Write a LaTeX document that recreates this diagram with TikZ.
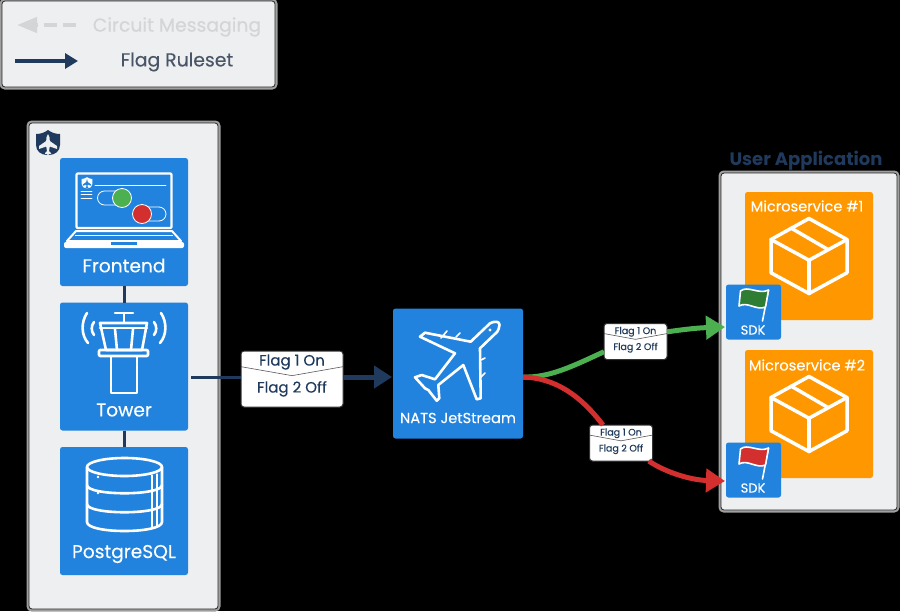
\documentclass[tikz,border=0pt]{standalone}
\usepackage{fontspec}
\setmainfont{Poppins}
\newfontfamily\mediumfont{Poppins}[FakeBold=0.25]
\usepackage{tikz}
\usetikzlibrary{arrows.meta}
\usetikzlibrary{positioning, calc}

\definecolor{panelgray}{HTML}{EEEFF0}
\definecolor{blockblue}{HTML}{2183DD}
\definecolor{blockorange}{HTML}{FF9800}
\definecolor{navy}{HTML}{1F3A5C}
\definecolor{flowgreen}{HTML}{4CAF50}
\definecolor{flowred}{HTML}{D32F2F}
\definecolor{flaggreen}{HTML}{2E7D32}
\definecolor{faded}{HTML}{D3D5D7}
\definecolor{rulesettext}{HTML}{4A5668}

\begin{document}
\begin{tikzpicture}[
    x=1pt, y=-1pt,
    panel/.style={fill=panelgray, draw=black!85, line width=.8pt, rounded corners=3pt, inner sep=0, outer sep=0, preaction={draw=gray!75, line width=5pt}},
    block/.style={fill=blockblue, rounded corners=2.5pt, inner sep=0, outer sep=0, minimum size=128pt},
    micro/.style={block, fill=blockorange},
    sdk/.style={block, minimum size=55pt},
    caption/.style={text=white, font=\fontsize{18.6}{20}\mediumfont},
    smallcaption/.style={text=white, font=\fontsize{14.6}{18}\mediumfont},
    icon/.style={draw=white, line width=2.6pt, line join=round, line cap=round},
    boxline/.style={draw=white, line width=3.5pt, line join=round, line cap=round},
    link/.style={navy, line width=3pt},
    flow/.style={line width=5pt, -{Triangle[length=19pt, width=23pt]}},
    flowplain/.style={line width=5pt},
    tag/.style={fill=white, draw=black!80, line width=1pt, rounded corners=3pt, inner sep=0, outer sep=0, align=center, text=navy,
        path picture={\draw[black!65, line width=.6pt, sharp corners]
            ($(path picture bounding box.north west)!#1!(path picture bounding box.south west)$) --
            ($(path picture bounding box.north)!#1+.16!(path picture bounding box.south)$) --
            ($(path picture bounding box.north east)!#1!(path picture bounding box.south east)$);}},
    bigtag/.style={tag=.28, minimum width=102pt, minimum height=56pt, text depth=11pt, font=\fontsize{15}{27}\mediumfont},
    smalltag/.style={tag=.28, minimum width=63pt, minimum height=36pt, text depth=6pt, font=\fontsize{9.5}{16}\mediumfont},
    pics/shield icon/.style={code={
        \fill[pic actions] (0,-13) .. controls (-4,-10) and (-8,-9) .. (-12,-9) -- (-12,2)
            .. controls (-12,8) and (-7,12) .. (-1,12) -- (0,9) -- (1,12)
            .. controls (7,12) and (12,8) .. (12,2) -- (12,-9) .. controls (8,-9) and (4,-10) .. (0,-13) -- cycle;
        \fill[#1] (0,-9) .. controls (1.8,-7) and (1.8,-4) .. (1.8,-2) -- (9,3) -- (9,6) -- (1.8,3.5) -- (1,8) -- (3,10)
            -- (3,11) -- (-3,11) -- (-3,10) -- (-1,8) -- (-1.8,3.5) -- (-9,6) -- (-9,3) -- (-1.8,-2) .. controls (-1.8,-4) and (-1.8,-7) .. (0,-9) -- cycle;
    }},
    pics/box icon/.style={code={
        \draw[boxline] (0,-37.5) -- (38,-16.5) -- (38,16.8) -- (0,37.5) -- (-38,16.8) -- (-38,-16.5) -- cycle;
        \draw[boxline] (-38,-16.5) -- (0,4.2) -- (38,-16.5);
        \draw[boxline] (0,4.2) -- (0,37.5);
        \draw[boxline] (-18,-28) -- (19,-6.5);
    }},
    pics/flag icon/.style={code={
        \draw[white, line width=1.6pt, line cap=round] (15,-22) -- (9,9);
        \draw[pic actions, draw=white, line width=1.6pt, line join=round] (-13,-21) .. controls (-6,-27) and (6,-17) .. (15,-22)
            -- (12,-5) .. controls (3,-1) and (-6,-11) .. (-14.5,-6) -- cycle;
    }}
]
    \useasboundingbox (0,0) rectangle (900,611);
    \fill[black] (0,0) rectangle (900,611);

    % panels
    \node[panel, minimum width=273pt, minimum height=86pt] (legend) at (138.5,44) {};
    \node[panel, minimum width=189pt, minimum height=486pt] (platform) at (123.5,366) {};
    \node[panel, minimum width=176pt, minimum height=337pt] (userapp) at (809,341.5) {};
    \node[text=navy, font=\fontsize{18}{20}\bfseries\selectfont] (userapptitle) at (806,161) {User Application};
    \pic[fill=navy] at (48,143) {shield icon={panelgray}};

    % legend
    \coordinate (circuitstart) at (76,25);
    \coordinate (circuitend) at (17,25);
    \coordinate (rulesetstart) at (15,61);
    \coordinate (rulesetend) at (78,61);
    \draw[faded, line width=4pt, dash pattern=on 13pt off 6pt, -{Triangle[length=20pt, width=15pt, sep=0pt]}] (circuitstart) -- (circuitend);
    \draw[navy, line width=3.5pt, -{Triangle[length=13pt, width=15pt]}] (rulesetstart) -- (rulesetend);
    \node[text=faded, font=\fontsize{18.8}{20}\mediumfont] (circuitlabel) at (177,27) {Circuit Messaging};
    \node[text=rulesettext, font=\fontsize{18.8}{20}\mediumfont] (rulesetlabel) at (177,62) {Flag Ruleset};

    % blocks
    \node[block] (frontend) at (124,222) {};
    \node[block] (tower) at (124,366.5) {};
    \node[block] (postgres) at (124,511) {};
    \node[block, minimum size=130pt] (nats) at (458,373.5) {};
    \node[micro] (microA) at (809,256) {};
    \node[micro] (microB) at (809,414) {};

    \draw[link] (frontend) -- (tower);
    \draw[link] (tower) -- (postgres);

    \node[caption] (frontendtext) at (124,265.5) {Frontend};
    \node[caption] (towertext) at (124,410) {Tower};
    \node[caption] (postgrestext) at (124,554) {PostgreSQL};
    \node[smallcaption] (natstext) at (458,418) {NATS JetStream};
    \node[smallcaption] (microAtext) at (807,206) {Microservice \#1};
    \node[smallcaption] (microBtext) at (807,365) {Microservice \#2};

    % laptop
    \draw[icon, line width=2.2pt, rounded corners=1pt] (76.5,173.5) rectangle (171.5,228);
    \draw[icon, line width=.8pt] (95,185) -- (166,185);
    \foreach \y in {191,194.5,198} {
        \draw[icon, line width=.7pt] (81,\y) -- (92,\y);
    }
    \pic[fill=white, scale=.45] at (87,183) {shield icon={blockblue}};
    \draw[icon, line width=.8pt, rounded corners=7pt] (97.5,191) rectangle (122,205);
    \draw[icon, line width=.8pt, rounded corners=7pt] (140,207) rectangle (166,221);
    \node[circle, fill=flowgreen, draw=white, line width=.8pt, minimum size=19pt, inner sep=0] (toggleon) at (122,198) {};
    \node[circle, fill=flowred, draw=white, line width=.8pt, minimum size=19pt, inner sep=0] (toggleoff) at (142,214) {};
    \draw[icon, line width=2pt] (76,231) -- (172,231) -- (181,241) -- (67,241) -- cycle;
    \draw[white, line width=1pt] (75,235.5) -- (173,235.5);
    \fill[white, rounded corners=2pt] (64,242) rectangle (184,248);
    \fill[blockblue] (111,242) rectangle (137,245);

    % tower
    \draw[icon] (115,313) -- (133,313) (124,313) -- (124,322);
    \draw[icon] (100,323) -- (147,323) -- (142,350) -- (106,350) -- cycle;
    \draw[icon] (100,328) -- (147,328);
    \draw[icon] (115,329) -- (117,350) (133,329) -- (131,350);
    \draw[icon, rounded corners=1pt] (99,350) rectangle (148,356);
    \draw[icon] (111,357) -- (111,393) -- (137,393) -- (137,357);
    \draw[icon] (87,313) .. controls (81,322) and (81,335) .. (88,343);
    \draw[icon] (94,322) .. controls (91,326) and (91,331) .. (94,335);
    \draw[icon] (161,313) .. controls (167,322) and (167,335) .. (160,343);
    \draw[icon] (154,322) .. controls (157,326) and (157,331) .. (154,335);

    % database
    \draw[icon] (124.5,467) ellipse (37.5 and 9);
    \draw[icon] (87,467) -- (87,522) .. controls (87,534) and (162,534) .. (162,522) -- (162,467);
    \draw[icon] (87,485) .. controls (87,496) and (162,496) .. (162,485);
    \draw[icon] (87,504) .. controls (87,515) and (162,515) .. (162,504);
    \draw[icon, line width=1.2pt] (152,475) -- (152,528) (157,474) -- (157,526);
    \fill[white] (98,477) circle (1.3) (98,493) circle (1.3);

    % plane
    \draw[icon] (497.3,331.7) -- (480,348.3) -- (480.7,398.3) -- (476.7,399.3) -- (463.3,365) -- (438.3,385) -- (439.3,398.3)
        -- (436.7,400.7) -- (428.3,390) -- (425,388.3) -- (415,377.3) -- (421.7,375) -- (435,379.3) -- (455,353.3)
        -- (420,336.7) -- (425,332.7) -- (470.7,341.7) -- (490,323.3) .. controls (494,321) and (500,321) .. (499.5,325) .. controls (499.5,328) and (498,330) .. cycle;
    \draw[icon, line width=1.6pt] (441,338) -- (447,331) (456,337) -- (460,333) (481,360) -- (485,358) (481,377) -- (485,373);
    \fill[white] (490,330) circle (1.6);

    % boxes
    \pic at (microA) {box icon};
    \pic at (microB) {box icon};

    % sdk
    \node[sdk] (sdkA) at (753.5,312) {};
    \node[sdk] (sdkB) at (753.5,470) {};
    \pic[fill=flaggreen] at (sdkA) {flag icon};
    \pic[fill=flowred] at (sdkB) {flag icon};
    \node[text=white, font=\fontsize{13}{15}\mediumfont] (sdkAtext) at (753,330) {SDK};
    \node[text=white, font=\fontsize{13}{15}\mediumfont] (sdkBtext) at (753,488) {SDK};

    % flag rulesets
    \coordinate (towerout) at (191,377);
    \coordinate (natsin) at (392,377);
    \coordinate (natsout) at (523,377);
    \coordinate (inA) at (725,327);
    \coordinate (inB) at (725,481);
    \node[bigtag] (tagmain) at (292,379) {Flag 1 On\\Flag 2 Off};
    \node[smalltag] (taggreen) at (635.5,341.5) {Flag 1 On\\Flag 2 Off};
    \node[smalltag] (tagred) at (621,443) {Flag 1 On\\Flag 2 Off};

    \draw[link] (towerout) -- (tagmain.west |- towerout);
    \draw[link, line width=5pt, -{Triangle[length=18pt, width=22pt]}] (tagmain.east |- natsin) -- (natsin);

    \draw[flowplain, flowgreen] (natsout) .. controls (550,378) and (575,365) .. (taggreen.198);
    \draw[flow, flowgreen] (taggreen.17) .. controls (680,330) and (695,328) .. (inA);
    \draw[flowplain, flowred] (natsout) .. controls (555,378) and (580,395) .. (tagred.135);
    \draw[flow, flowred] (tagred.-33) .. controls (665,472) and (690,480) .. (inB);
\end{tikzpicture}
\end{document}
